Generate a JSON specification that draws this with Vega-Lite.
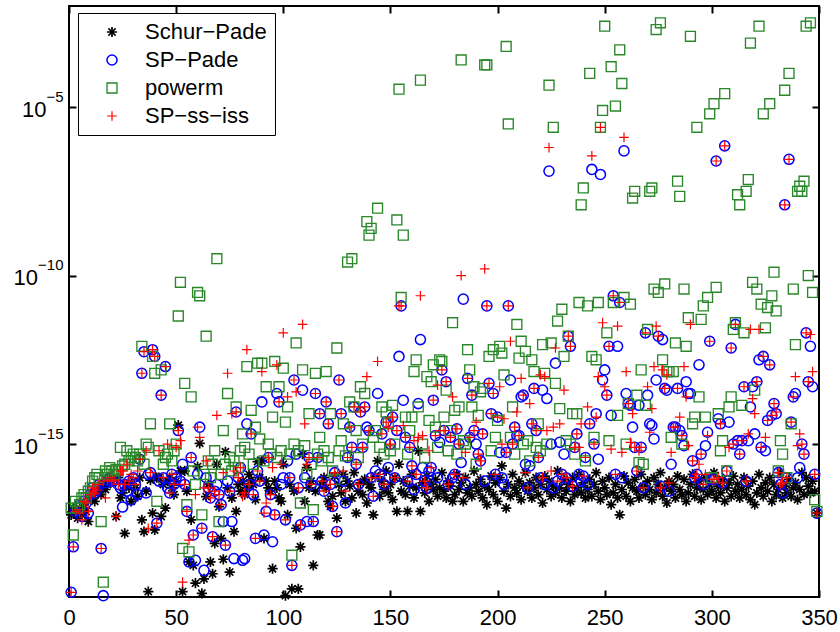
{
  "$schema": "https://vega.github.io/schema/vega-lite/v6.json",
  "width": 750,
  "height": 591,
  "autosize": {"type": "none"},
  "padding": {"left": 69, "top": 6, "right": 21, "bottom": 35},
  "background": "white",
  "config": {
    "view": {"stroke": "#000000", "strokeWidth": 2},
    "font": "Liberation Sans",
    "axis": {
      "domain": false,
      "grid": false,
      "tickColor": "#000000",
      "tickWidth": 2,
      "labelColor": "#000000",
      "labelFont": "Liberation Sans",
      "labelFontSize": 22,
      "labelFlush": false,
      "labelOverlap": false
    },
    "legend": {
      "title": null,
      "orient": "none",
      "legendX": 9,
      "legendY": 7,
      "fillColor": "#ffffff",
      "strokeColor": "#000000",
      "padding": 8,
      "labelFont": "Liberation Sans",
      "labelFontSize": 22,
      "labelColor": "#000000",
      "symbolOffset": 15,
      "labelOffset": 22,
      "rowPadding": 6
    }
  },
  "resolve": {"axis": {"x": "independent", "y": "independent"}},
  "layer": [
    {
      "data": {
        "values": [
          {"n":1,"a":-17.1,"b":-19.4,"c":-16.9,"d":-19.4},
          {"n":2,"a":-16.9,"b":-18.05,"c":-17.7,"d":-18.05},
          {"n":3,"a":-17.0,"b":-17.0,"c":-16.7,"d":-17.0},
          {"n":4,"a":-17.2,"b":-16.9,"c":-16.9,"d":-16.95},
          {"n":5,"a":-16.95,"b":-16.8,"c":-16.8,"d":-17.05},
          {"n":6,"a":-17.1,"b":-17.15,"c":-16.6,"d":-17.25},
          {"n":7,"a":-16.8,"b":-16.7,"c":-16.5,"d":-16.7},
          {"n":8,"a":-17.0,"b":-16.75,"c":-16.6,"d":-16.75},
          {"n":9,"a":-17.3,"b":-17.05,"c":-16.4,"d":-17.0},
          {"n":10,"a":-16.6,"b":-16.5,"c":-16.3,"d":-16.5},
          {"n":11,"a":-16.5,"b":-16.3,"c":-16.1,"d":-16.3},
          {"n":12,"a":-16.7,"b":-16.45,"c":-16.0,"d":-16.45},
          {"n":13,"a":-16.4,"b":-16.37,"c":-15.9,"d":-16.37},
          {"n":14,"a":-16.3,"b":-16.2,"c":-16.0,"d":-16.2},
          {"n":15,"a":-16.5,"b":-18.1,"c":-17.3,"d":-18.1},
          {"n":16,"a":-16.2,"b":-19.5,"c":-19.1,"d":-16.1},
          {"n":17,"a":-16.35,"b":-16.15,"c":-15.8,"d":-16.6},
          {"n":18,"a":-16.2,"b":-16.07,"c":-15.9,"d":-16.07},
          {"n":19,"a":-16.0,"b":-16.0,"c":-15.7,"d":-16.0},
          {"n":20,"a":-16.1,"b":-16.1,"c":-15.8,"d":-16.1},
          {"n":21,"a":-16.05,"b":-16.07,"c":-15.9,"d":-16.07},
          {"n":22,"a":-17.15,"b":-15.9,"c":-15.75,"d":-17.15},
          {"n":23,"a":-16.0,"b":-16.2,"c":-15.8,"d":-16.2},
          {"n":24,"a":-16.6,"b":-16.3,"c":-15.1,"d":-15.8},
          {"n":25,"a":-16.45,"b":-16.87,"c":-15.65,"d":-15.8},
          {"n":26,"a":-17.65,"b":-16.2,"c":-15.6,"d":-16.2},
          {"n":27,"a":-16.2,"b":-16.4,"c":-15.2,"d":-15.6},
          {"n":28,"a":-16.3,"b":-16.1,"c":-15.5,"d":-16.1},
          {"n":29,"a":-16.7,"b":-16.66,"c":-15.4,"d":-15.9},
          {"n":30,"a":-16.1,"b":-16.0,"c":-15.3,"d":-16.0},
          {"n":31,"a":-16.3,"b":-16.2,"c":-15.4,"d":-16.2},
          {"n":32,"a":-16.55,"b":-16.5,"c":-15.5,"d":-15.8},
          {"n":33,"a":-16.0,"b":-15.45,"c":-15.3,"d":-15.45},
          {"n":34,"a":-17.25,"b":-12.9,"c":-12.1,"d":-12.9},
          {"n":35,"a":-17.6,"b":-12.26,"c":-15.6,"d":-12.26},
          {"n":36,"a":-16.4,"b":-16.45,"c":-15.0,"d":-15.2},
          {"n":37,"a":-19.38,"b":-15.9,"c":-15.1,"d":-17.5},
          {"n":38,"a":-16.07,"b":-15.85,"c":-14.4,"d":-15.85},
          {"n":39,"a":-17.05,"b":-12.2,"c":-12.4,"d":-12.2},
          {"n":40,"a":-17.55,"b":-12.4,"c":-12.9,"d":-12.4},
          {"n":41,"a":-16.0,"b":-17.35,"c":-16.7,"d":-17.35},
          {"n":42,"a":-16.0,"b":-16.1,"c":-15.2,"d":-15.2},
          {"n":43,"a":-17.15,"b":-13.55,"c":-12.8,"d":-13.55},
          {"n":44,"a":-16.2,"b":-16.0,"c":-15.6,"d":-16.0},
          {"n":45,"a":-16.9,"b":-12.7,"c":-15.4,"d":-12.7},
          {"n":46,"a":-16.1,"b":-16.3,"c":-15.3,"d":-15.0},
          {"n":47,"a":-16.0,"b":-16.45,"c":-14.4,"d":-16.45},
          {"n":48,"a":-16.3,"b":-15.9,"c":-15.5,"d":-15.9},
          {"n":49,"a":-16.5,"b":-16.2,"c":-15.2,"d":-16.2},
          {"n":50,"a":-16.1,"b":-16.0,"c":-15.0,"d":-15.1},
          {"n":51,"a":-14.44,"b":-14.6,"c":-11.2,"d":-14.6},
          {"n":52,"a":-15.8,"b":-16.1,"c":-10.2,"d":-14.9},
          {"n":53,"a":-19.38,"b":-15.6,"c":-18.1,"d":-19.1},
          {"n":54,"a":-15.8,"b":-16.2,"c":-13.2,"d":-16.2},
          {"n":55,"a":-16.4,"b":-17.0,"c":-16.8,"d":-17.0},
          {"n":56,"a":-18.5,"b":-18.5,"c":-18.2,"d":-17.85},
          {"n":57,"a":-17.25,"b":-15.4,"c":-13.6,"d":-15.4},
          {"n":58,"a":-18.6,"b":-17.7,"c":-15.8,"d":-17.7},
          {"n":59,"a":-19.13,"b":-18.45,"c":-16.2,"d":-16.5},
          {"n":60,"a":-15.67,"b":-15.9,"c":-10.5,"d":-14.5},
          {"n":61,"a":-14.98,"b":-14.5,"c":-10.6,"d":-14.8},
          {"n":62,"a":-19.43,"b":-17.5,"c":-17.1,"d":-17.5},
          {"n":63,"a":-19.0,"b":-18.75,"c":-15.9,"d":-16.3},
          {"n":64,"a":-16.56,"b":-16.0,"c":-11.8,"d":-15.5},
          {"n":65,"a":-16.2,"b":-16.3,"c":-15.5,"d":-16.3},
          {"n":66,"a":-18.5,"b":-16.6,"c":-16.0,"d":-16.6},
          {"n":67,"a":-18.85,"b":-17.75,"c":-15.6,"d":-17.75},
          {"n":68,"a":-17.95,"b":-16.4,"c":-15.2,"d":-16.4},
          {"n":69,"a":-15.6,"b":-16.2,"c":-9.5,"d":-14.15},
          {"n":70,"a":-16.86,"b":-16.5,"c":-17.3,"d":-16.5},
          {"n":71,"a":-17.8,"b":-16.8,"c":-15.9,"d":-16.8},
          {"n":72,"a":-18.42,"b":-17.3,"c":-14.6,"d":-15.85},
          {"n":73,"a":-15.23,"b":-18.0,"c":-15.6,"d":-18.0},
          {"n":74,"a":-16.3,"b":-16.1,"c":-13.5,"d":-12.9},
          {"n":75,"a":-18.8,"b":-16.4,"c":-15.4,"d":-16.4},
          {"n":76,"a":-16.6,"b":-17.3,"c":-15.8,"d":-14.1},
          {"n":77,"a":-17.6,"b":-18.4,"c":-15.5,"d":-15.8},
          {"n":78,"a":-17.0,"b":-14.05,"c":-13.9,"d":-14.05},
          {"n":79,"a":-16.2,"b":-16.0,"c":-15.7,"d":-16.0},
          {"n":80,"a":-16.4,"b":-15.7,"c":-15.2,"d":-15.7},
          {"n":81,"a":-16.1,"b":-18.45,"c":-14.7,"d":-16.55},
          {"n":82,"a":-16.5,"b":-18.4,"c":-15.1,"d":-16.45},
          {"n":83,"a":-16.3,"b":-14.4,"c":-12.7,"d":-12.2},
          {"n":84,"a":-15.9,"b":-16.2,"c":-15.3,"d":-16.2},
          {"n":85,"a":-16.07,"b":-14.7,"c":-14.0,"d":-14.7},
          {"n":86,"a":-16.2,"b":-16.5,"c":-15.6,"d":-16.5},
          {"n":87,"a":-16.65,"b":-17.8,"c":-14.5,"d":-17.8},
          {"n":88,"a":-15.52,"b":-15.8,"c":-12.6,"d":-15.8},
          {"n":89,"a":-16.0,"b":-16.1,"c":-14.85,"d":-16.1},
          {"n":90,"a":-15.5,"b":-13.75,"c":-12.6,"d":-12.85},
          {"n":91,"a":-17.8,"b":-17.7,"c":-15.5,"d":-17.05},
          {"n":92,"a":-16.1,"b":-17.0,"c":-13.3,"d":-16.75},
          {"n":93,"a":-16.3,"b":-15.4,"c":-15.0,"d":-15.4},
          {"n":94,"a":-16.4,"b":-16.5,"c":-15.3,"d":-16.5},
          {"n":95,"a":-18.7,"b":-17.9,"c":-14.2,"d":-15.7},
          {"n":96,"a":-16.1,"b":-17.1,"c":-12.55,"d":-17.1},
          {"n":97,"a":-16.3,"b":-13.5,"c":-15.4,"d":-12.65},
          {"n":98,"a":-16.6,"b":-13.75,"c":-13.3,"d":-13.75},
          {"n":99,"a":-16.7,"b":-16.2,"c":-15.2,"d":-15.6},
          {"n":100,"a":-15.6,"b":-16.0,"c":-12.75,"d":-11.7},
          {"n":101,"a":-19.5,"b":-17.25,"c":-14.35,"d":-17.25},
          {"n":102,"a":-17.1,"b":-15.5,"c":-13.9,"d":-13.6},
          {"n":103,"a":-16.2,"b":-16.0,"c":-15.3,"d":-16.0},
          {"n":104,"a":-19.3,"b":-18.6,"c":-18.3,"d":-18.6},
          {"n":105,"a":-16.4,"b":-13.1,"c":-15.0,"d":-13.1},
          {"n":106,"a":-17.5,"b":-15.3,"c":-12.0,"d":-13.45},
          {"n":107,"a":-19.3,"b":-16.3,"c":-15.2,"d":-16.3},
          {"n":108,"a":-18.05,"b":-17.4,"c":-16.75,"d":-17.4},
          {"n":109,"a":-15.3,"b":-13.4,"c":-12.8,"d":-11.45},
          {"n":110,"a":-16.7,"b":-16.0,"c":-15.05,"d":-14.4},
          {"n":111,"a":-15.7,"b":-17.3,"c":-15.9,"d":-15.6},
          {"n":112,"a":-16.3,"b":-15.4,"c":-14.1,"d":-15.4},
          {"n":113,"a":-16.1,"b":-16.2,"c":-15.6,"d":-16.2},
          {"n":114,"a":-18.6,"b":-17.3,"c":-16.95,"d":-17.3},
          {"n":115,"a":-16.4,"b":-13.5,"c":-12.9,"d":-13.5},
          {"n":116,"a":-17.7,"b":-15.4,"c":-15.3,"d":-15.4},
          {"n":117,"a":-17.7,"b":-14.1,"c":-14.8,"d":-14.1},
          {"n":118,"a":-16.2,"b":-16.1,"c":-15.5,"d":-16.1},
          {"n":119,"a":-16.0,"b":-16.4,"c":-15.2,"d":-16.4},
          {"n":120,"a":-16.3,"b":-13.75,"c":-12.85,"d":-13.75},
          {"n":121,"a":-16.7,"b":-14.4,"c":-15.4,"d":-14.4},
          {"n":122,"a":-16.85,"b":-16.2,"c":-14.1,"d":-16.2},
          {"n":123,"a":-16.55,"b":-16.85,"c":-15.8,"d":-16.85},
          {"n":124,"a":-15.95,"b":-15.85,"c":-16.05,"d":-15.85},
          {"n":125,"a":-17.2,"b":-17.6,"c":-12.15,"d":-17.6},
          {"n":126,"a":-16.2,"b":-13.1,"c":-15.2,"d":-13.1},
          {"n":127,"a":-16.45,"b":-14.1,"c":-14.9,"d":-14.1},
          {"n":128,"a":-15.9,"b":-16.1,"c":-14.4,"d":-15.8},
          {"n":129,"a":-16.7,"b":-16.75,"c":-15.35,"d":-16.4},
          {"n":130,"a":-16.1,"b":-15.4,"c":-9.6,"d":-15.4},
          {"n":131,"a":-16.25,"b":-14.5,"c":-13.75,"d":-14.5},
          {"n":132,"a":-16.6,"b":-15.1,"c":-9.5,"d":-15.1},
          {"n":133,"a":-15.85,"b":-13.9,"c":-13.9,"d":-13.9},
          {"n":134,"a":-17.05,"b":-15.6,"c":-14.6,"d":-15.6},
          {"n":135,"a":-16.4,"b":-16.2,"c":-15.4,"d":-16.2},
          {"n":136,"a":-16.15,"b":-14.05,"c":-13.3,"d":-14.05},
          {"n":137,"a":-16.5,"b":-15.1,"c":-15.0,"d":-15.1},
          {"n":138,"a":-16.05,"b":-13.9,"c":-13.5,"d":-13.9},
          {"n":139,"a":-16.75,"b":-14.5,"c":-8.4,"d":-13.0},
          {"n":140,"a":-16.2,"b":-14.6,"c":-8.8,"d":-14.6},
          {"n":141,"a":-16.3,"b":-16.0,"c":-8.6,"d":-16.0},
          {"n":142,"a":-17.1,"b":-16.55,"c":-14.8,"d":-16.55},
          {"n":143,"a":-15.95,"b":-15.8,"c":-14.6,"d":-16.0},
          {"n":144,"a":-15.5,"b":-13.5,"c":-8.0,"d":-12.55},
          {"n":145,"a":-16.55,"b":-15.9,"c":-15.1,"d":-15.9},
          {"n":146,"a":-16.1,"b":-14.7,"c":-13.9,"d":-14.7},
          {"n":147,"a":-16.35,"b":-16.2,"c":-15.3,"d":-16.2},
          {"n":148,"a":-15.8,"b":-14.35,"c":-14.05,"d":-14.35},
          {"n":149,"a":-16.45,"b":-15.7,"c":-14.4,"d":-14.5},
          {"n":150,"a":-16.2,"b":-15.0,"c":-15.2,"d":-15.0},
          {"n":151,"a":-16.65,"b":-14.2,"c":-13.85,"d":-14.2},
          {"n":152,"a":-16.0,"b":-16.0,"c":-15.0,"d":-16.0},
          {"n":153,"a":-17.0,"b":-14.6,"c":-8.35,"d":-14.6},
          {"n":154,"a":-15.6,"b":-12.4,"c":-4.47,"d":-10.9},
          {"n":155,"a":-16.4,"b":-10.9,"c":-10.65,"d":-10.9},
          {"n":156,"a":-16.1,"b":-13.7,"c":-8.8,"d":-14.45},
          {"n":157,"a":-16.5,"b":-14.8,"c":-14.2,"d":-14.8},
          {"n":158,"a":-17.0,"b":-16.1,"c":-15.3,"d":-16.1},
          {"n":159,"a":-16.25,"b":-15.1,"c":-14.6,"d":-15.1},
          {"n":160,"a":-15.9,"b":-15.65,"c":-14.2,"d":-15.65},
          {"n":161,"a":-16.6,"b":-16.35,"c":-12.85,"d":-14.9},
          {"n":162,"a":-16.3,"b":-15.9,"c":-12.5,"d":-15.9},
          {"n":163,"a":-15.2,"b":-13.8,"c":-13.9,"d":-14.8},
          {"n":164,"a":-17.0,"b":-11.9,"c":-4.2,"d":-10.6},
          {"n":165,"a":-16.15,"b":-15.7,"c":-15.0,"d":-14.75},
          {"n":166,"a":-16.45,"b":-16.1,"c":-15.4,"d":-16.1},
          {"n":167,"a":-15.95,"b":-16.3,"c":-13.0,"d":-16.3},
          {"n":168,"a":-16.7,"b":-15.8,"c":-14.3,"d":-15.2},
          {"n":169,"a":-16.2,"b":-15.7,"c":-13.15,"d":-15.7},
          {"n":170,"a":-16.35,"b":-13.7,"c":-12.65,"d":-13.7},
          {"n":171,"a":-16.05,"b":-14.75,"c":-14.5,"d":-14.75},
          {"n":172,"a":-16.55,"b":-16.0,"c":-15.1,"d":-13.25},
          {"n":173,"a":-16.3,"b":-14.95,"c":-12.5,"d":-14.6},
          {"n":174,"a":-15.85,"b":-12.8,"c":-12.55,"d":-12.8},
          {"n":175,"a":-16.4,"b":-14.6,"c":-14.2,"d":-14.6},
          {"n":176,"a":-16.6,"b":-13.15,"c":-13.4,"d":-13.15},
          {"n":177,"a":-16.1,"b":-16.2,"c":-15.2,"d":-16.2},
          {"n":178,"a":-16.25,"b":-14.8,"c":-14.6,"d":-14.8},
          {"n":179,"a":-16.7,"b":-16.0,"c":-11.4,"d":-13.6},
          {"n":180,"a":-16.5,"b":-15.9,"c":-14.0,"d":-15.9},
          {"n":181,"a":-15.9,"b":-14.55,"c":-15.3,"d":-14.55},
          {"n":182,"a":-16.35,"b":-15.0,"c":-13.9,"d":-15.0},
          {"n":183,"a":-16.15,"b":-15.55,"c":-3.6,"d":-10.0},
          {"n":184,"a":-16.7,"b":-10.7,"c":-14.9,"d":-16.0},
          {"n":185,"a":-16.0,"b":-16.2,"c":-15.0,"d":-15.25},
          {"n":186,"a":-16.45,"b":-13.05,"c":-12.2,"d":-13.05},
          {"n":187,"a":-16.3,"b":-14.8,"c":-12.8,"d":-14.8},
          {"n":188,"a":-16.55,"b":-13.55,"c":-13.9,"d":-13.55},
          {"n":189,"a":-15.8,"b":-14.6,"c":-13.3,"d":-14.6},
          {"n":190,"a":-16.2,"b":-15.0,"c":-15.6,"d":-14.35},
          {"n":191,"a":-16.4,"b":-15.3,"c":-14.15,"d":-15.3},
          {"n":192,"a":-16.05,"b":-15.5,"c":-13.45,"d":-15.5},
          {"n":193,"a":-16.6,"b":-14.7,"c":-13.35,"d":-14.7},
          {"n":194,"a":-16.25,"b":-16.1,"c":-3.75,"d":-9.8},
          {"n":195,"a":-16.8,"b":-10.9,"c":-3.75,"d":-10.9},
          {"n":196,"a":-16.35,"b":-13.2,"c":-12.4,"d":-13.2},
          {"n":197,"a":-15.95,"b":-14.1,"c":-15.2,"d":-14.1},
          {"n":198,"a":-16.5,"b":-13.5,"c":-12.2,"d":-13.5},
          {"n":199,"a":-16.15,"b":-15.9,"c":-14.8,"d":-15.9},
          {"n":200,"a":-16.7,"b":-14.2,"c":-14.3,"d":-14.2},
          {"n":201,"a":-16.0,"b":-15.25,"c":-12.1,"d":-13.3},
          {"n":202,"a":-15.65,"b":-16.0,"c":-12.3,"d":-15.0},
          {"n":203,"a":-16.4,"b":-16.2,"c":-12.95,"d":-14.25},
          {"n":204,"a":-16.9,"b":-15.25,"c":-3.2,"d":-15.25},
          {"n":205,"a":-16.2,"b":-10.9,"c":-5.5,"d":-10.9},
          {"n":206,"a":-16.55,"b":-13.1,"c":-14.8,"d":-11.95},
          {"n":207,"a":-15.9,"b":-15.0,"c":-13.9,"d":-15.0},
          {"n":208,"a":-16.3,"b":-14.5,"c":-15.3,"d":-14.5},
          {"n":209,"a":-16.45,"b":-14.75,"c":-11.45,"d":-14.05},
          {"n":210,"a":-16.1,"b":-14.75,"c":-12.45,"d":-14.75},
          {"n":211,"a":-16.65,"b":-13.6,"c":-11.95,"d":-13.05},
          {"n":212,"a":-16.25,"b":-13.55,"c":-15.0,"d":-13.55},
          {"n":213,"a":-15.85,"b":-15.6,"c":-12.25,"d":-15.85},
          {"n":214,"a":-16.4,"b":-16.3,"c":-14.9,"d":-16.3},
          {"n":215,"a":-16.15,"b":-15.65,"c":-15.5,"d":-13.8},
          {"n":216,"a":-16.6,"b":-14.4,"c":-12.5,"d":-14.4},
          {"n":217,"a":-16.3,"b":-13.35,"c":-12.85,"d":-13.35},
          {"n":218,"a":-16.0,"b":-14.6,"c":-15.1,"d":-14.6},
          {"n":219,"a":-16.5,"b":-15.4,"c":-14.4,"d":-15.4},
          {"n":220,"a":-16.2,"b":-16.0,"c":-15.2,"d":-12.95},
          {"n":221,"a":-16.75,"b":-13.4,"c":-12.05,"d":-16.0},
          {"n":222,"a":-15.95,"b":-16.2,"c":-12.9,"d":-13.0},
          {"n":223,"a":-16.35,"b":-13.65,"c":-15.0,"d":-14.6},
          {"n":224,"a":-16.1,"b":-6.9,"c":-4.35,"d":-6.2},
          {"n":225,"a":-16.55,"b":-15.0,"c":-12.0,"d":-15.8},
          {"n":226,"a":-16.25,"b":-16.3,"c":-5.6,"d":-14.5},
          {"n":227,"a":-16.45,"b":-12.6,"c":-13.2,"d":-12.15},
          {"n":228,"a":-15.8,"b":-16.1,"c":-11.35,"d":-16.1},
          {"n":229,"a":-16.3,"b":-14.95,"c":-13.95,"d":-14.4},
          {"n":230,"a":-16.6,"b":-15.9,"c":-11.0,"d":-15.9},
          {"n":231,"a":-16.05,"b":-15.3,"c":-12.4,"d":-13.4},
          {"n":232,"a":-16.4,"b":-16.0,"c":-14.9,"d":-16.0},
          {"n":233,"a":-16.2,"b":-11.8,"c":-11.8,"d":-11.8},
          {"n":234,"a":-16.7,"b":-12.1,"c":-15.0,"d":-12.1},
          {"n":235,"a":-16.0,"b":-16.25,"c":-14.1,"d":-16.25},
          {"n":236,"a":-16.5,"b":-15.1,"c":-15.3,"d":-15.1},
          {"n":237,"a":-16.3,"b":-14.7,"c":-14.1,"d":-14.7},
          {"n":238,"a":-15.9,"b":-15.9,"c":-10.8,"d":-15.1},
          {"n":239,"a":-16.45,"b":-16.1,"c":-7.9,"d":-14.4},
          {"n":240,"a":-16.15,"b":-15.95,"c":-7.4,"d":-15.95},
          {"n":241,"a":-16.6,"b":-15.4,"c":-15.5,"d":-15.4},
          {"n":242,"a":-16.35,"b":-16.2,"c":-10.9,"d":-13.9},
          {"n":243,"a":-16.05,"b":-14.4,"c":-4.0,"d":-14.4},
          {"n":244,"a":-16.55,"b":-6.85,"c":-12.4,"d":-6.45},
          {"n":245,"a":-16.2,"b":-15.0,"c":-14.8,"d":-15.0},
          {"n":246,"a":-15.85,"b":-14.1,"c":-12.5,"d":-14.2},
          {"n":247,"a":-16.4,"b":-15.45,"c":-10.8,"d":-13.0},
          {"n":248,"a":-16.65,"b":-7.0,"c":-5.6,"d":-5.6},
          {"n":249,"a":-16.1,"b":-13.1,"c":-5.1,"d":-11.4},
          {"n":250,"a":-16.3,"b":-12.8,"c":-2.6,"d":-13.3},
          {"n":251,"a":-16.5,"b":-13.55,"c":-11.7,"d":-13.55},
          {"n":252,"a":-16.0,"b":-12.1,"c":-14.9,"d":-12.1},
          {"n":253,"a":-16.8,"b":-14.15,"c":-3.8,"d":-15.15},
          {"n":254,"a":-16.45,"b":-10.6,"c":-10.8,"d":-10.6},
          {"n":255,"a":-16.2,"b":-15.9,"c":-4.97,"d":-15.9},
          {"n":256,"a":-16.6,"b":-12.1,"c":-14.15,"d":-11.5},
          {"n":257,"a":-17.1,"b":-10.8,"c":-3.3,"d":-10.8},
          {"n":258,"a":-16.35,"b":-16.0,"c":-4.3,"d":-15.25},
          {"n":259,"a":-15.95,"b":-6.3,"c":-10.65,"d":-5.9},
          {"n":260,"a":-16.55,"b":-13.5,"c":-15.0,"d":-12.85},
          {"n":261,"a":-16.15,"b":-13.8,"c":-13.8,"d":-13.8},
          {"n":262,"a":-16.7,"b":-13.85,"c":-10.85,"d":-14.95},
          {"n":263,"a":-16.3,"b":-14.5,"c":-7.7,"d":-14.1},
          {"n":264,"a":-16.05,"b":-15.1,"c":-7.5,"d":-15.1},
          {"n":265,"a":-16.4,"b":-15.8,"c":-13.55,"d":-15.8},
          {"n":266,"a":-16.6,"b":-13.85,"c":-15.55,"d":-15.2},
          {"n":267,"a":-15.9,"b":-15.1,"c":-12.8,"d":-15.1},
          {"n":268,"a":-16.25,"b":-16.3,"c":-15.6,"d":-16.3},
          {"n":269,"a":-16.5,"b":-11.7,"c":-13.85,"d":-11.7},
          {"n":270,"a":-16.1,"b":-13.55,"c":-11.6,"d":-13.3},
          {"n":271,"a":-16.35,"b":-14.4,"c":-7.5,"d":-14.65},
          {"n":272,"a":-16.65,"b":-14.45,"c":-7.4,"d":-13.95},
          {"n":273,"a":-16.0,"b":-14.85,"c":-10.4,"d":-12.7},
          {"n":274,"a":-16.45,"b":-13.1,"c":-2.7,"d":-11.5},
          {"n":275,"a":-16.2,"b":-11.8,"c":-10.5,"d":-11.8},
          {"n":276,"a":-15.85,"b":-16.25,"c":-2.5,"d":-16.3},
          {"n":277,"a":-16.55,"b":-11.9,"c":-12.5,"d":-12.8},
          {"n":278,"a":-16.3,"b":-13.35,"c":-10.25,"d":-13.35},
          {"n":279,"a":-16.75,"b":-13.4,"c":-12.85,"d":-12.95},
          {"n":280,"a":-16.1,"b":-16.4,"c":-12.85,"d":-16.15},
          {"n":281,"a":-16.4,"b":-15.6,"c":-14.8,"d":-15.25},
          {"n":282,"a":-16.2,"b":-14.5,"c":-12.85,"d":-14.5},
          {"n":283,"a":-16.6,"b":-14.5,"c":-12.0,"d":-14.5},
          {"n":284,"a":-15.95,"b":-13.35,"c":-7.2,"d":-13.35},
          {"n":285,"a":-16.35,"b":-14.6,"c":-7.65,"d":-14.2},
          {"n":286,"a":-16.5,"b":-14.75,"c":-15.0,"d":-14.75},
          {"n":287,"a":-16.05,"b":-15.05,"c":-10.4,"d":-12.7},
          {"n":288,"a":-16.7,"b":-13.15,"c":-12.1,"d":-13.6},
          {"n":289,"a":-16.45,"b":-13.5,"c":-11.25,"d":-15.05},
          {"n":290,"a":-16.2,"b":-13.5,"c":-2.9,"d":-11.45},
          {"n":291,"a":-15.9,"b":-15.5,"c":-14.4,"d":-15.5},
          {"n":292,"a":-16.55,"b":-16.0,"c":-14.2,"d":-16.0},
          {"n":293,"a":-16.3,"b":-15.9,"c":-5.6,"d":-15.9},
          {"n":294,"a":-16.1,"b":-12.65,"c":-13.6,"d":-15.6},
          {"n":295,"a":-16.65,"b":-15.3,"c":-11.3,"d":-15.3},
          {"n":296,"a":-16.35,"b":-16.2,"c":-10.9,"d":-16.2},
          {"n":297,"a":-16.0,"b":-15.05,"c":-14.2,"d":-15.9},
          {"n":298,"a":-16.5,"b":-14.65,"c":-10.65,"d":-14.75},
          {"n":299,"a":-16.2,"b":-11.95,"c":-5.2,"d":-11.95},
          {"n":300,"a":-16.4,"b":-16.05,"c":-16.0,"d":-16.05},
          {"n":301,"a":-15.85,"b":-16.05,"c":-4.9,"d":-16.05},
          {"n":302,"a":-16.6,"b":-6.6,"c":-10.35,"d":-6.6},
          {"n":303,"a":-16.25,"b":-14.25,"c":-14.1,"d":-16.0},
          {"n":304,"a":-16.45,"b":-14.4,"c":-15.2,"d":-14.4},
          {"n":305,"a":-16.05,"b":-16.15,"c":-14.9,"d":-16.15},
          {"n":306,"a":-16.7,"b":-6.15,"c":-4.6,"d":-6.15},
          {"n":307,"a":-16.3,"b":-15.8,"c":-15.8,"d":-15.8},
          {"n":308,"a":-16.15,"b":-14.35,"c":-13.9,"d":-15.1},
          {"n":309,"a":-16.55,"b":-12.15,"c":-13.6,"d":-12.15},
          {"n":310,"a":-15.95,"b":-15.0,"c":-11.6,"d":-15.0},
          {"n":311,"a":-16.4,"b":-11.45,"c":-11.4,"d":-11.45},
          {"n":312,"a":-16.2,"b":-14.9,"c":-7.6,"d":-14.9},
          {"n":313,"a":-16.6,"b":-15.3,"c":-7.9,"d":-15.3},
          {"n":314,"a":-16.35,"b":-14.9,"c":-13.85,"d":-14.9},
          {"n":315,"a":-16.0,"b":-13.3,"c":-11.7,"d":-13.3},
          {"n":316,"a":-16.5,"b":-16.1,"c":-7.5,"d":-16.1},
          {"n":317,"a":-16.25,"b":-14.9,"c":-7.15,"d":-14.7},
          {"n":318,"a":-16.65,"b":-13.9,"c":-3.1,"d":-11.6},
          {"n":319,"a":-16.1,"b":-13.3,"c":-10.2,"d":-13.65},
          {"n":320,"a":-16.8,"b":-14.7,"c":-13.4,"d":-14.1},
          {"n":321,"a":-16.45,"b":-13.15,"c":-10.4,"d":-13.15},
          {"n":322,"a":-15.9,"b":-12.5,"c":-2.6,"d":-11.6},
          {"n":323,"a":-16.3,"b":-15.1,"c":-10.85,"d":-15.1},
          {"n":324,"a":-16.55,"b":-12.4,"c":-5.2,"d":-12.4},
          {"n":325,"a":-16.15,"b":-15.2,"c":-11.55,"d":-14.8},
          {"n":326,"a":-16.4,"b":-14.3,"c":-10.95,"d":-14.3},
          {"n":327,"a":-16.0,"b":-12.65,"c":-4.9,"d":-12.65},
          {"n":328,"a":-16.7,"b":-14.15,"c":-10.6,"d":-14.15},
          {"n":329,"a":-16.2,"b":-13.8,"c":-9.9,"d":-13.8},
          {"n":330,"a":-16.5,"b":-14.1,"c":-11.05,"d":-14.05},
          {"n":331,"a":-16.35,"b":-15.85,"c":-15.8,"d":-15.85},
          {"n":332,"a":-15.85,"b":-16.2,"c":-14.9,"d":-16.2},
          {"n":333,"a":-16.6,"b":-16.45,"c":-15.3,"d":-16.15},
          {"n":334,"a":-16.25,"b":-7.9,"c":-4.5,"d":-7.9},
          {"n":335,"a":-16.45,"b":-16.0,"c":-16.0,"d":-16.0},
          {"n":336,"a":-16.05,"b":-6.55,"c":-4.0,"d":-6.55},
          {"n":337,"a":-16.55,"b":-14.35,"c":-14.4,"d":-14.35},
          {"n":338,"a":-16.3,"b":-13.6,"c":-10.4,"d":-13.6},
          {"n":339,"a":-16.15,"b":-13.5,"c":-12.05,"d":-13.0},
          {"n":340,"a":-16.65,"b":-16.0,"c":-7.5,"d":-15.05},
          {"n":341,"a":-16.35,"b":-15.7,"c":-7.35,"d":-14.7},
          {"n":342,"a":-15.85,"b":-15.0,"c":-7.5,"d":-15.0},
          {"n":343,"a":-16.5,"b":-15.3,"c":-7.2,"d":-15.3},
          {"n":344,"a":-16.0,"b":-11.7,"c":-2.6,"d":-11.7},
          {"n":345,"a":-16.25,"b":-13.15,"c":-10.0,"d":-13.15},
          {"n":346,"a":-16.45,"b":-12.1,"c":-2.5,"d":-11.75},
          {"n":347,"a":-16.1,"b":-13.3,"c":-10.5,"d":-12.85},
          {"n":348,"a":-16.4,"b":-15.9,"c":-16.65,"d":-15.9},
          {"n":349,"a":-17.05,"b":-17.05,"c":-17.0,"d":-17.05}
        ]
      },
      "transform": [{"fold": ["a", "b", "c", "d"], "as": ["method", "log10err"]}],
      "mark": {"type": "point", "filled": false, "opacity": 1, "clip": false},
      "encoding": {
        "x": {
          "field": "n",
          "type": "quantitative",
          "scale": {"domain": [0, 350], "nice": false, "zero": false},
          "axis": {
            "orient": "bottom",
            "title": null,
            "values": [0, 50, 100, 150, 200, 250, 300, 350],
            "format": "d",
            "tickSize": -7,
            "labelPadding": 17
          }
        },
        "y": {
          "field": "log10err",
          "type": "quantitative",
          "scale": {"domain": [-19.54, -2], "nice": false, "zero": false},
          "axis": {
            "orient": "left",
            "title": null,
            "values": [-15, -10, -5],
            "labelExpr": "'10'",
            "tickSize": -7,
            "labelAlign": "right",
            "labelBaseline": "middle",
            "labelOffset": 2,
            "labelPadding": {"condition": {"test": "datum.value == -5", "value": 30}, "value": 38.5}
          }
        },
        "color": {
          "field": "method",
          "type": "nominal",
          "scale": {"domain": ["a", "b", "c", "d"], "range": ["#000000", "#0000ff", "#2a872a", "#ff0000"]},
          "legend": {
            "labelExpr": "datum.label == 'a' ? 'Schur−Pade' : datum.label == 'b' ? 'SP−Pade' : datum.label == 'c' ? 'powerm' : 'SP−ss−iss'",
            "encode": {"legend": {"update": {"strokeWidth": {"value": 2}}}}
          }
        },
        "shape": {
          "field": "method",
          "type": "nominal",
          "scale": {
            "domain": ["a", "b", "c", "d"],
            "range": [
              "M-1,0L1,0M0,-1L0,1M-0.7,-0.7L0.7,0.7M-0.7,0.7L0.7,-0.7",
              "circle",
              "square",
              "M-1,0L1,0M0,-1L0,1"
            ]
          },
          "legend": {
            "labelExpr": "datum.label == 'a' ? 'Schur−Pade' : datum.label == 'b' ? 'SP−Pade' : datum.label == 'c' ? 'powerm' : 'SP−ss−iss'",
            "encode": {"legend": {"update": {"strokeWidth": {"value": 2}}}}
          }
        },
        "size": {
          "field": "method",
          "type": "nominal",
          "scale": {"domain": ["a", "b", "c", "d"], "range": [105, 95, 58, 105]},
          "legend": {
            "labelExpr": "datum.label == 'a' ? 'Schur−Pade' : datum.label == 'b' ? 'SP−Pade' : datum.label == 'c' ? 'powerm' : 'SP−ss−iss'",
            "encode": {"legend": {"update": {"strokeWidth": {"value": 2}}}}
          }
        },
        "strokeWidth": {
          "field": "method",
          "type": "nominal",
          "scale": {"domain": ["a", "b", "c", "d"], "range": [1.7, 1.2, 1.3, 1.2]},
          "legend": {
            "labelExpr": "datum.label == 'a' ? 'Schur−Pade' : datum.label == 'b' ? 'SP−Pade' : datum.label == 'c' ? 'powerm' : 'SP−ss−iss'",
            "encode": {"legend": {"update": {"strokeWidth": {"value": 2}}}}
          }
        },
        "order": {"field": "method", "type": "ordinal"}
      }
    },
    {
      "data": {"values": [{"n": 0, "log10err": -15}]},
      "mark": {"type": "point", "opacity": 0},
      "encoding": {
        "x": {
          "field": "n",
          "type": "quantitative",
          "scale": {"domain": [0, 350], "nice": false, "zero": false},
          "axis": {"orient": "top", "title": null, "labels": false, "values": [0, 50, 100, 150, 200, 250, 300, 350], "tickSize": -7}
        },
        "y": {
          "field": "log10err",
          "type": "quantitative",
          "scale": {"domain": [-19.54, -2], "nice": false, "zero": false},
          "axis": {"orient": "right", "title": null, "labels": false, "values": [-15, -10, -5], "tickSize": -7}
        }
      }
    },
    {
      "data": {"values": [{"n": 0, "log10err": -15}]},
      "mark": {"type": "point", "opacity": 0},
      "encoding": {
        "x": {
          "field": "n",
          "type": "quantitative",
          "scale": {"domain": [0, 350], "nice": false, "zero": false},
          "axis": null
        },
        "y": {
          "field": "log10err",
          "type": "quantitative",
          "scale": {"domain": [-19.54, -2], "nice": false, "zero": false},
          "axis": {
            "orient": "left",
            "title": null,
            "values": [-15, -10, -5],
            "ticks": false,
            "labelExpr": "'−' + abs(datum.value)",
            "labelFontSize": 15,
            "labelAlign": "right",
            "labelBaseline": "alphabetic",
            "labelOffset": -6,
            "labelPadding": 6
          }
        }
      }
    }
  ]
}
